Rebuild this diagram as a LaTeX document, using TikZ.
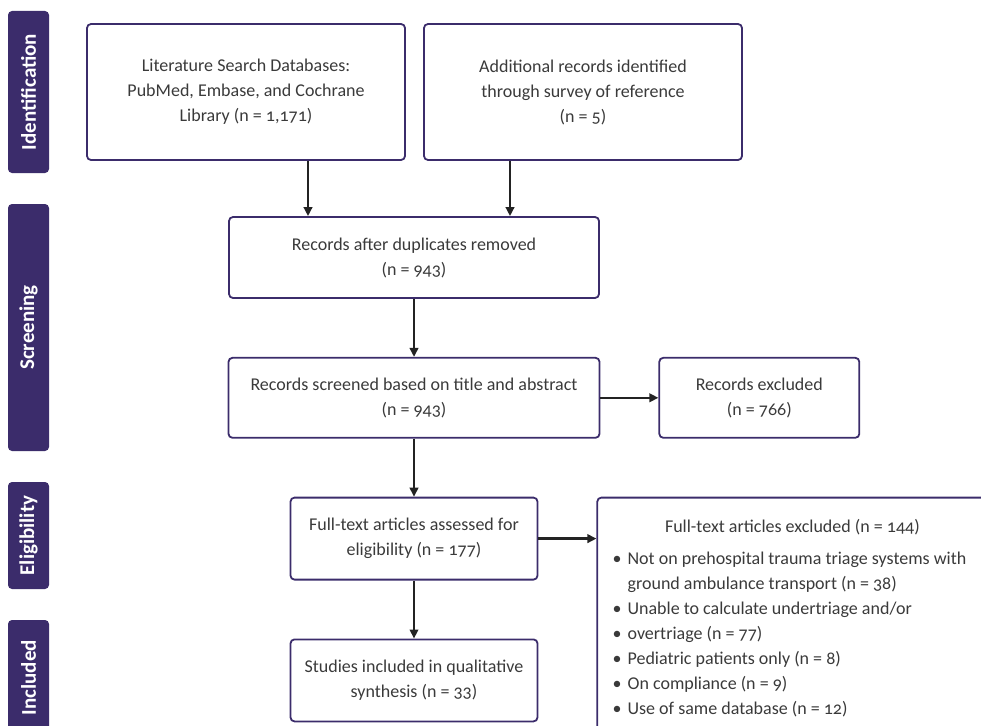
\documentclass[tikz,border=0pt]{standalone}
\usepackage{fontspec}
\setmainfont{Carlito}[Numbers=OldStyle]
\usepackage{xcolor}
\usetikzlibrary{arrows.meta,positioning,calc}
\definecolor{prisma}{HTML}{3B2C6B}
\definecolor{inkgray}{HTML}{3A3A3A}
\definecolor{arrowink}{HTML}{232323}
\newcommand{\exbul}{\makebox[15pt][l]{\textbullet}}
\newcommand{\exgap}{\hspace*{15pt}}
\tikzset{
  box/.style={draw=prisma, line width=1.8pt, rounded corners=4pt, align=center,
              text=inkgray, font=\fontsize{18}{25}\selectfont, inner sep=4pt},
  phase/.style={fill=prisma, rounded corners=4pt, text=white, rotate=90,
              font=\fontsize{21}{24}\selectfont\bfseries, minimum height=41pt,
              inner sep=0pt},
  flow/.style={-{Triangle[length=9pt,width=8.5pt]}, line width=2.3pt, draw=arrowink},
  lbl/.style={text=inkgray, font=\fontsize{18}{25}\selectfont, inner sep=0pt},
}
\begin{document}
\begin{tikzpicture}[x=1pt, y=1pt, node distance=58pt]
  \useasboundingbox (0,0) rectangle (981,-725);
  \clip (0,0) rectangle (981,-725);
  % phase bars
  \node[phase, minimum width=162pt] (idbar) at (28.5,-92) {Identification};
  \node[phase, minimum width=247pt] (scbar) at (28.5,-327.5) {Screening};
  \node[phase, minimum width=107pt] (elbar) at (28.5,-535.5) {Eligibility};
  \node[phase, minimum width=115pt] (inbar) at (28.5,-677.5) {Included};
  % identification
  \node[box, minimum width=318pt, minimum height=136pt] (lit) at (246,-92)
    {Literature Search Databases:\\PubMed, Embase, and Cochrane\\Library (n = 1,171)};
  \node[box, minimum width=318pt, minimum height=136pt] (add) at (583,-92)
    {Additional records identified\\through survey of reference\\(n = 5)};
  % screening
  \node[box, minimum width=370pt, minimum height=81pt] (dup) at (414,-257.5)
    {Records after duplicates removed\\(n = 943)};
  \node[box, minimum width=371pt, minimum height=80pt, below=of dup] (scr)
    {Records screened based on title and abstract\\(n = 943)};
  \node[box, minimum width=200pt, minimum height=80pt, right=of scr] (exc1)
    {Records excluded\\(n = 766)};
  % eligibility
  \node[box, minimum width=247pt, minimum height=82pt, below=of scr] (full)
    {Full-text articles assessed for\\eligibility (n = 177)};
  \node[box, minimum width=400pt, minimum height=250pt, anchor=north west] at
    ($(full.north east)+(58,0)$) (exc2) {};
  \node[lbl] at ($(exc2.north west)+(196,-30)$) (exchead)
    {Full-text articles excluded (n = 144)};
  \node[lbl, anchor=base west, align=left] at ($(exc2.north west)+(16,-218)$) (exclist)
    {\exbul Not on prehospital trauma triage systems with\\
     \exgap ground ambulance transport (n = 38)\\
     \exbul Unable to calculate undertriage and/or\\
     \exbul overtriage (n = 77)\\
     \exbul Pediatric patients only (n = 8)\\
     \exbul On compliance (n = 9)\\
     \exbul Use of same database (n = 12)};
  % included
  \node[box, minimum width=247pt, minimum height=82pt, below=of full] (inc)
    {Studies included in qualitative\\synthesis (n = 33)};
  % flows
  \draw[flow] ([xshift=62pt]lit.south) -- ([xshift=62pt]lit.south |- dup.north);
  \draw[flow] ([xshift=-73pt]add.south) -- ([xshift=-73pt]add.south |- dup.north);
  \draw[flow] (dup) -- (scr);
  \draw[flow] (scr) -- (exc1);
  \draw[flow] (scr) -- (full);
  \draw[flow] (full) -- (full.east -| exc2.west);
  \draw[flow] (full) -- (inc);
\end{tikzpicture}
\end{document}
